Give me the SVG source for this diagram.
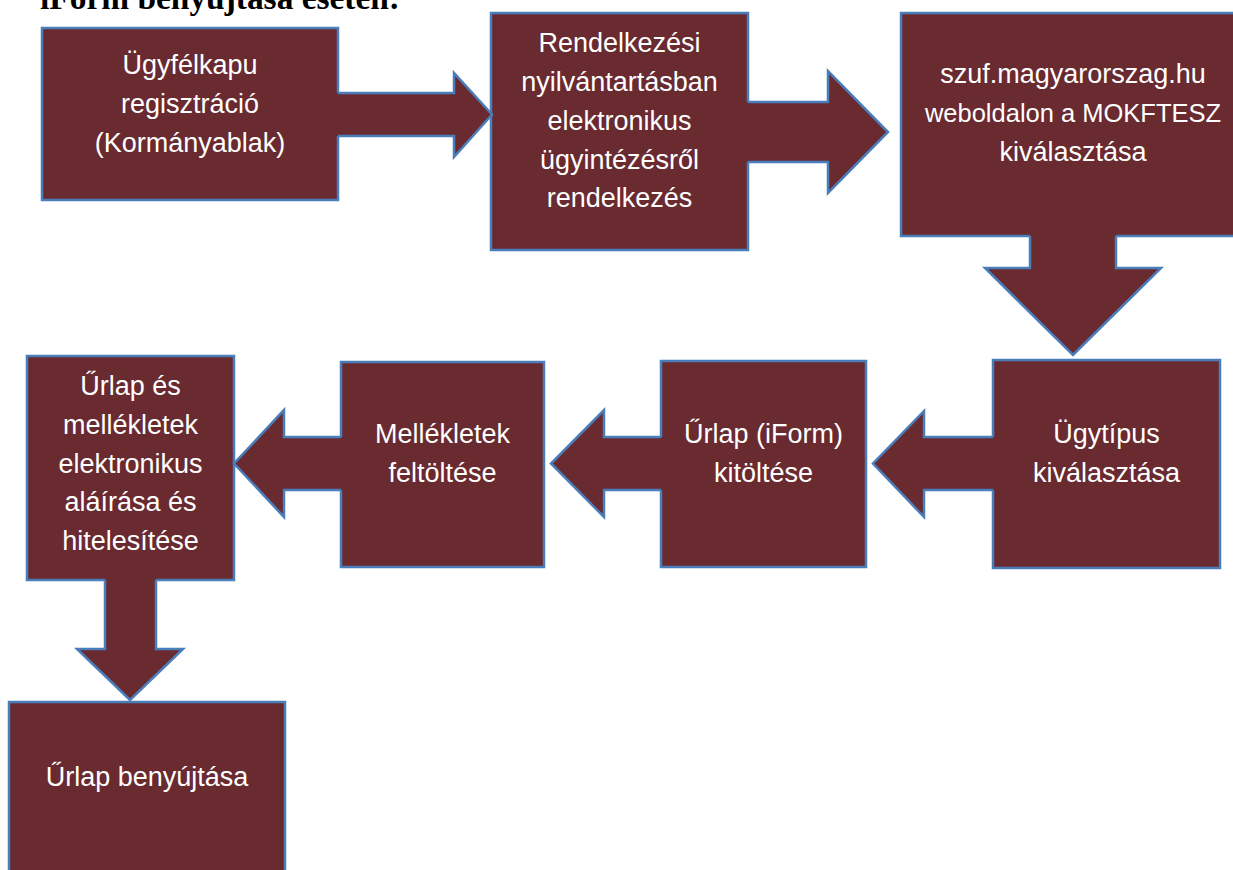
<svg xmlns="http://www.w3.org/2000/svg" width="1233" height="870" viewBox="0 0 1233 870">
<style>
.box{fill:#692A30;stroke:#4A7EBB;stroke-width:2.5}
.af{fill:#692A30;stroke:none}
.ao{fill:none;stroke:#4A7EBB;stroke-width:2.5;stroke-linejoin:miter}
.t{font-family:"Liberation Sans",Arial,sans-serif;font-size:27px;fill:#FFFFFF;text-anchor:middle}
.title{font-family:"Liberation Serif","Times New Roman",serif;font-size:33px;font-weight:bold;fill:#000000}
</style>
<rect width="1233" height="870" fill="#FFFFFF"/>
<text class="title" x="40" y="9" textLength="360" lengthAdjust="spacingAndGlyphs">iForm benyújtása esetén:</text>
<g id="nodes">
<g id="n1">
<rect class="box" x="42" y="28" width="296" height="172"/>
<text class="t" x="190" y="74">Ügyfélkapu</text>
<text class="t" x="190" y="113">regisztráció</text>
<text class="t" x="190" y="151.5">(Kormányablak)</text>
</g>
<g id="n2">
<rect class="box" x="491" y="13" width="257" height="237"/>
<text class="t" x="619.5" y="52">Rendelkezési</text>
<text class="t" x="619.5" y="91">nyilvántartásban</text>
<text class="t" x="619.5" y="130">elektronikus</text>
<text class="t" x="619.5" y="168.5">ügyintézésről</text>
<text class="t" x="619.5" y="207">rendelkezés</text>
</g>
<g id="n3">
<rect class="box" x="901" y="13" width="335" height="223"/>
<text class="t" x="1073" y="83">szuf.magyarorszag.hu</text>
<text class="t" x="1073" y="122" style="font-size:25.5px">weboldalon a MOKFTESZ</text>
<text class="t" x="1073" y="160.5">kiválasztása</text>
</g>
<g id="n4">
<rect class="box" x="993" y="360" width="227" height="208"/>
<text class="t" x="1106.5" y="443">Ügytípus</text>
<text class="t" x="1106.5" y="481.5">kiválasztása</text>
</g>
<g id="n5">
<rect class="box" x="661" y="361" width="205" height="206"/>
<text class="t" x="763.5" y="443">Űrlap (iForm)</text>
<text class="t" x="763.5" y="481.5">kitöltése</text>
</g>
<g id="n6">
<rect class="box" x="341" y="362" width="203" height="205"/>
<text class="t" x="442.5" y="443">Mellékletek</text>
<text class="t" x="442.5" y="481.5">feltöltése</text>
</g>
<g id="n7">
<rect class="box" x="27" y="356" width="207" height="224"/>
<text class="t" x="130.5" y="395">Űrlap és</text>
<text class="t" x="130.5" y="434">mellékletek</text>
<text class="t" x="130.5" y="472.5">elektronikus</text>
<text class="t" x="130.5" y="511">aláírása és</text>
<text class="t" x="130.5" y="550">hitelesítése</text>
</g>
<g id="n8">
<rect class="box" x="9" y="702" width="276" height="180"/>
<text class="t" x="147" y="786">Űrlap benyújtása</text>
</g>
</g>
<g id="connectors">
<g id="c1">
<polygon class="af" points="334,93 454,93 454,73 492,114.5 454,157 454,136 334,136"/>
<polyline class="ao" points="338,93 454,93 454,73 492,114.5 454,157 454,136 338,136"/>
</g>
<g id="c2">
<polygon class="af" points="744,102 828,102 828,71 888,132 828,193 828,162 744,162"/>
<polyline class="ao" points="748,102 828,102 828,71 888,132 828,193 828,162 748,162"/>
</g>
<g id="c3">
<polygon class="af" points="1030,232 1030,268 985,268 1073,355 1161,268 1116,268 1116,232"/>
<polyline class="ao" points="1030,236 1030,268 985,268 1073,355 1161,268 1116,268 1116,236"/>
</g>
<g id="c4">
<polygon class="af" points="997,437 924,437 924,411 873,463.5 924,517 924,490 997,490"/>
<polyline class="ao" points="993,437 924,437 924,411 873,463.5 924,517 924,490 993,490"/>
</g>
<g id="c5">
<polygon class="af" points="665,437 604,437 604,410 551,463.5 604,517 604,490 665,490"/>
<polyline class="ao" points="661,437 604,437 604,410 551,463.5 604,517 604,490 661,490"/>
</g>
<g id="c6">
<polygon class="af" points="345,437 284,437 284,410 234,463.5 284,517 284,490 345,490"/>
<polyline class="ao" points="341,437 284,437 284,410 234,463.5 284,517 284,490 341,490"/>
</g>
<g id="c7">
<polygon class="af" points="105,576 105,649 77,649 130,700 183,649 156,649 156,576"/>
<polyline class="ao" points="105,580 105,649 77,649 130,700 183,649 156,649 156,580"/>
</g>
</g>
</svg>
